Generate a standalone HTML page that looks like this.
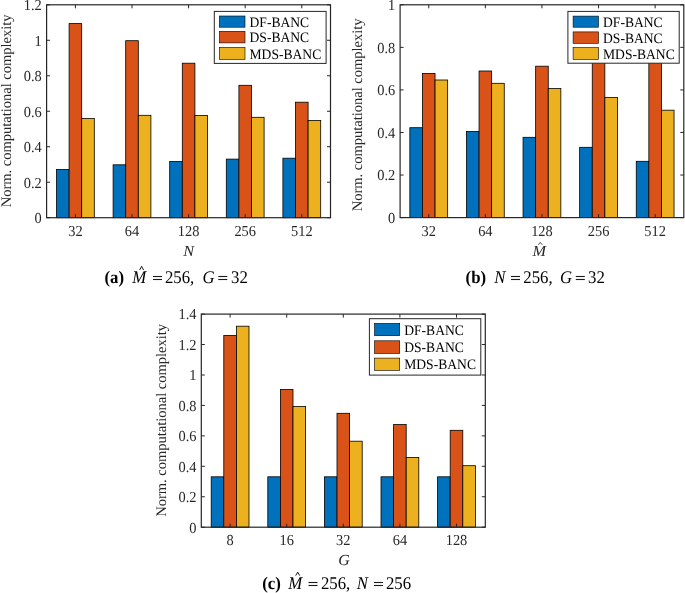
<!DOCTYPE html><html><head><meta charset="utf-8"><style>html,body{margin:0;padding:0;background:#fff;}body{width:685px;height:593px;overflow:hidden;}svg{display:block;filter:blur(0.4px);}text{font-family:"Liberation Serif", serif;text-rendering:geometricPrecision;}</style></head><body>
<svg width="685" height="593" viewBox="0 0 685 593">
<rect x="0" y="0" width="685" height="593" fill="#fff"/>
<rect x="56.5" y="169.4" width="12.6" height="48.3" fill="#0072BD" stroke="#000" stroke-width="0.8"/>
<rect x="69.1" y="23.6" width="12.6" height="194.1" fill="#D95319" stroke="#000" stroke-width="0.8"/>
<rect x="81.7" y="118.4" width="12.6" height="99.3" fill="#EDB120" stroke="#000" stroke-width="0.8"/>
<rect x="113.1" y="164.8" width="12.6" height="52.9" fill="#0072BD" stroke="#000" stroke-width="0.8"/>
<rect x="125.7" y="40.7" width="12.6" height="177" fill="#D95319" stroke="#000" stroke-width="0.8"/>
<rect x="138.3" y="115.3" width="12.6" height="102.4" fill="#EDB120" stroke="#000" stroke-width="0.8"/>
<rect x="169.7" y="161.5" width="12.6" height="56.2" fill="#0072BD" stroke="#000" stroke-width="0.8"/>
<rect x="182.3" y="63.2" width="12.6" height="154.5" fill="#D95319" stroke="#000" stroke-width="0.8"/>
<rect x="194.9" y="115.5" width="12.6" height="102.2" fill="#EDB120" stroke="#000" stroke-width="0.8"/>
<rect x="226.3" y="159.1" width="12.6" height="58.6" fill="#0072BD" stroke="#000" stroke-width="0.8"/>
<rect x="238.9" y="85.3" width="12.6" height="132.4" fill="#D95319" stroke="#000" stroke-width="0.8"/>
<rect x="251.5" y="117.3" width="12.6" height="100.4" fill="#EDB120" stroke="#000" stroke-width="0.8"/>
<rect x="282.9" y="158.2" width="12.6" height="59.5" fill="#0072BD" stroke="#000" stroke-width="0.8"/>
<rect x="295.5" y="102.2" width="12.6" height="115.5" fill="#D95319" stroke="#000" stroke-width="0.8"/>
<rect x="308.1" y="120.4" width="12.6" height="97.3" fill="#EDB120" stroke="#000" stroke-width="0.8"/>
<rect x="46.6" y="4.8" width="283.9" height="212.9" fill="none" stroke="#262626" stroke-width="1.2"/>
<path d="M75.4 217.7V214.2M75.4 4.8V8.3M132 217.7V214.2M132 4.8V8.3M188.6 217.7V214.2M188.6 4.8V8.3M245.2 217.7V214.2M245.2 4.8V8.3M301.8 217.7V214.2M301.8 4.8V8.3M46.6 217.7H50.1M330.5 217.7H327M46.6 182.22H50.1M330.5 182.22H327M46.6 146.73H50.1M330.5 146.73H327M46.6 111.25H50.1M330.5 111.25H327M46.6 75.77H50.1M330.5 75.77H327M46.6 40.28H50.1M330.5 40.28H327M46.6 4.8H50.1M330.5 4.8H327" stroke="#262626" stroke-width="1" fill="none"/>
<text transform="translate(41.8 223) scale(1 1.06)" font-size="14.4" text-anchor="end" fill="#262626">0</text>
<text transform="translate(41.8 187.52) scale(1 1.06)" font-size="14.4" text-anchor="end" fill="#262626">0.2</text>
<text transform="translate(41.8 152.03) scale(1 1.06)" font-size="14.4" text-anchor="end" fill="#262626">0.4</text>
<text transform="translate(41.8 116.55) scale(1 1.06)" font-size="14.4" text-anchor="end" fill="#262626">0.6</text>
<text transform="translate(41.8 81.07) scale(1 1.06)" font-size="14.4" text-anchor="end" fill="#262626">0.8</text>
<text transform="translate(41.8 45.58) scale(1 1.06)" font-size="14.4" text-anchor="end" fill="#262626">1</text>
<text transform="translate(41.8 10.1) scale(1 1.06)" font-size="14.4" text-anchor="end" fill="#262626">1.2</text>
<text transform="translate(75.4 235.8) scale(1 1.06)" font-size="14.4" text-anchor="middle" fill="#262626">32</text>
<text transform="translate(132 235.8) scale(1 1.06)" font-size="14.4" text-anchor="middle" fill="#262626">64</text>
<text transform="translate(188.6 235.8) scale(1 1.06)" font-size="14.4" text-anchor="middle" fill="#262626">128</text>
<text transform="translate(245.2 235.8) scale(1 1.06)" font-size="14.4" text-anchor="middle" fill="#262626">256</text>
<text transform="translate(301.8 235.8) scale(1 1.06)" font-size="14.4" text-anchor="middle" fill="#262626">512</text>
<rect x="214.3" y="11.4" width="111.8" height="52" fill="#fff" stroke="#262626" stroke-width="1"/>
<rect x="219.4" y="16" width="25.6" height="11.2" fill="#0072BD" stroke="#000" stroke-width="0.6"/>
<text transform="translate(249.5 26.8) scale(1 1.06)" font-size="13.6" fill="#000">DF-BANC</text>
<rect x="219.4" y="31.3" width="25.6" height="11.6" fill="#D95319" stroke="#000" stroke-width="0.6"/>
<text transform="translate(249.5 42.3) scale(1 1.06)" font-size="13.6" fill="#000">DS-BANC</text>
<rect x="219.4" y="47.4" width="25.6" height="11.9" fill="#EDB120" stroke="#000" stroke-width="0.6"/>
<text transform="translate(249.5 58.55) scale(1 1.06)" font-size="13.6" fill="#000">MDS-BANC</text>
<text transform="translate(11 110.9) rotate(-90)" font-size="14.5" text-anchor="middle" fill="#262626">Norm. computational complexity</text>
<rect x="409.85" y="127.7" width="12.6" height="89.9" fill="#0072BD" stroke="#000" stroke-width="0.8"/>
<rect x="422.45" y="73.4" width="12.6" height="144.2" fill="#D95319" stroke="#000" stroke-width="0.8"/>
<rect x="435.05" y="80" width="12.6" height="137.6" fill="#EDB120" stroke="#000" stroke-width="0.8"/>
<rect x="466.45" y="131.5" width="12.6" height="86.1" fill="#0072BD" stroke="#000" stroke-width="0.8"/>
<rect x="479.05" y="71" width="12.6" height="146.6" fill="#D95319" stroke="#000" stroke-width="0.8"/>
<rect x="491.65" y="83.3" width="12.6" height="134.3" fill="#EDB120" stroke="#000" stroke-width="0.8"/>
<rect x="523.05" y="137.3" width="12.6" height="80.3" fill="#0072BD" stroke="#000" stroke-width="0.8"/>
<rect x="535.65" y="66.2" width="12.6" height="151.4" fill="#D95319" stroke="#000" stroke-width="0.8"/>
<rect x="548.25" y="88.4" width="12.6" height="129.2" fill="#EDB120" stroke="#000" stroke-width="0.8"/>
<rect x="579.65" y="147.3" width="12.6" height="70.3" fill="#0072BD" stroke="#000" stroke-width="0.8"/>
<rect x="592.25" y="60" width="12.6" height="157.6" fill="#D95319" stroke="#000" stroke-width="0.8"/>
<rect x="604.85" y="97.5" width="12.6" height="120.1" fill="#EDB120" stroke="#000" stroke-width="0.8"/>
<rect x="636.25" y="161.3" width="12.6" height="56.3" fill="#0072BD" stroke="#000" stroke-width="0.8"/>
<rect x="648.85" y="58" width="12.6" height="159.6" fill="#D95319" stroke="#000" stroke-width="0.8"/>
<rect x="661.45" y="110.2" width="12.6" height="107.4" fill="#EDB120" stroke="#000" stroke-width="0.8"/>
<rect x="400.1" y="4.8" width="283.7" height="212.8" fill="none" stroke="#262626" stroke-width="1.2"/>
<path d="M428.75 217.6V214.1M428.75 4.8V8.3M485.35 217.6V214.1M485.35 4.8V8.3M541.95 217.6V214.1M541.95 4.8V8.3M598.55 217.6V214.1M598.55 4.8V8.3M655.15 217.6V214.1M655.15 4.8V8.3M400.1 217.6H403.6M683.8 217.6H680.3M400.1 175.04H403.6M683.8 175.04H680.3M400.1 132.48H403.6M683.8 132.48H680.3M400.1 89.92H403.6M683.8 89.92H680.3M400.1 47.36H403.6M683.8 47.36H680.3M400.1 4.8H403.6M683.8 4.8H680.3" stroke="#262626" stroke-width="1" fill="none"/>
<text transform="translate(395.3 222.9) scale(1 1.06)" font-size="14.4" text-anchor="end" fill="#262626">0</text>
<text transform="translate(395.3 180.34) scale(1 1.06)" font-size="14.4" text-anchor="end" fill="#262626">0.2</text>
<text transform="translate(395.3 137.78) scale(1 1.06)" font-size="14.4" text-anchor="end" fill="#262626">0.4</text>
<text transform="translate(395.3 95.22) scale(1 1.06)" font-size="14.4" text-anchor="end" fill="#262626">0.6</text>
<text transform="translate(395.3 52.66) scale(1 1.06)" font-size="14.4" text-anchor="end" fill="#262626">0.8</text>
<text transform="translate(395.3 10.1) scale(1 1.06)" font-size="14.4" text-anchor="end" fill="#262626">1</text>
<text transform="translate(428.75 235.7) scale(1 1.06)" font-size="14.4" text-anchor="middle" fill="#262626">32</text>
<text transform="translate(485.35 235.7) scale(1 1.06)" font-size="14.4" text-anchor="middle" fill="#262626">64</text>
<text transform="translate(541.95 235.7) scale(1 1.06)" font-size="14.4" text-anchor="middle" fill="#262626">128</text>
<text transform="translate(598.55 235.7) scale(1 1.06)" font-size="14.4" text-anchor="middle" fill="#262626">256</text>
<text transform="translate(655.15 235.7) scale(1 1.06)" font-size="14.4" text-anchor="middle" fill="#262626">512</text>
<rect x="567.9" y="11.4" width="111.3" height="51.8" fill="#fff" stroke="#262626" stroke-width="1"/>
<rect x="573.1" y="16.1" width="25.4" height="11.1" fill="#0072BD" stroke="#000" stroke-width="0.6"/>
<text transform="translate(603 26.85) scale(1 1.06)" font-size="13.6" fill="#000">DF-BANC</text>
<rect x="573.1" y="31.9" width="25.4" height="11.4" fill="#D95319" stroke="#000" stroke-width="0.6"/>
<text transform="translate(603 42.8) scale(1 1.06)" font-size="13.6" fill="#000">DS-BANC</text>
<rect x="573.1" y="47.6" width="25.4" height="11.7" fill="#EDB120" stroke="#000" stroke-width="0.6"/>
<text transform="translate(603 58.65) scale(1 1.06)" font-size="13.6" fill="#000">MDS-BANC</text>
<text transform="translate(362 114.9) rotate(-90)" font-size="14.5" text-anchor="middle" fill="#262626">Norm. computational complexity</text>
<rect x="211.2" y="476.8" width="12.6" height="50.4" fill="#0072BD" stroke="#000" stroke-width="0.8"/>
<rect x="223.8" y="335.4" width="12.6" height="191.8" fill="#D95319" stroke="#000" stroke-width="0.8"/>
<rect x="236.4" y="326.2" width="12.6" height="201" fill="#EDB120" stroke="#000" stroke-width="0.8"/>
<rect x="267.8" y="476.8" width="12.6" height="50.4" fill="#0072BD" stroke="#000" stroke-width="0.8"/>
<rect x="280.4" y="389.5" width="12.6" height="137.7" fill="#D95319" stroke="#000" stroke-width="0.8"/>
<rect x="293" y="406.5" width="12.6" height="120.7" fill="#EDB120" stroke="#000" stroke-width="0.8"/>
<rect x="324.4" y="476.8" width="12.6" height="50.4" fill="#0072BD" stroke="#000" stroke-width="0.8"/>
<rect x="337" y="413.3" width="12.6" height="113.9" fill="#D95319" stroke="#000" stroke-width="0.8"/>
<rect x="349.6" y="441.2" width="12.6" height="86" fill="#EDB120" stroke="#000" stroke-width="0.8"/>
<rect x="381" y="476.8" width="12.6" height="50.4" fill="#0072BD" stroke="#000" stroke-width="0.8"/>
<rect x="393.6" y="424.5" width="12.6" height="102.7" fill="#D95319" stroke="#000" stroke-width="0.8"/>
<rect x="406.2" y="457.4" width="12.6" height="69.8" fill="#EDB120" stroke="#000" stroke-width="0.8"/>
<rect x="437.6" y="476.8" width="12.6" height="50.4" fill="#0072BD" stroke="#000" stroke-width="0.8"/>
<rect x="450.2" y="430.3" width="12.6" height="96.9" fill="#D95319" stroke="#000" stroke-width="0.8"/>
<rect x="462.8" y="465.7" width="12.6" height="61.5" fill="#EDB120" stroke="#000" stroke-width="0.8"/>
<rect x="201.3" y="314.1" width="284" height="213.1" fill="none" stroke="#262626" stroke-width="1.2"/>
<path d="M230.1 527.2V523.7M230.1 314.1V317.6M286.7 527.2V523.7M286.7 314.1V317.6M343.3 527.2V523.7M343.3 314.1V317.6M399.9 527.2V523.7M399.9 314.1V317.6M456.5 527.2V523.7M456.5 314.1V317.6M201.3 527.2H204.8M485.3 527.2H481.8M201.3 496.76H204.8M485.3 496.76H481.8M201.3 466.31H204.8M485.3 466.31H481.8M201.3 435.87H204.8M485.3 435.87H481.8M201.3 405.43H204.8M485.3 405.43H481.8M201.3 374.99H204.8M485.3 374.99H481.8M201.3 344.54H204.8M485.3 344.54H481.8M201.3 314.1H204.8M485.3 314.1H481.8" stroke="#262626" stroke-width="1" fill="none"/>
<text transform="translate(196.5 532.5) scale(1 1.06)" font-size="14.4" text-anchor="end" fill="#262626">0</text>
<text transform="translate(196.5 502.06) scale(1 1.06)" font-size="14.4" text-anchor="end" fill="#262626">0.2</text>
<text transform="translate(196.5 471.61) scale(1 1.06)" font-size="14.4" text-anchor="end" fill="#262626">0.4</text>
<text transform="translate(196.5 441.17) scale(1 1.06)" font-size="14.4" text-anchor="end" fill="#262626">0.6</text>
<text transform="translate(196.5 410.73) scale(1 1.06)" font-size="14.4" text-anchor="end" fill="#262626">0.8</text>
<text transform="translate(196.5 380.29) scale(1 1.06)" font-size="14.4" text-anchor="end" fill="#262626">1</text>
<text transform="translate(196.5 349.84) scale(1 1.06)" font-size="14.4" text-anchor="end" fill="#262626">1.2</text>
<text transform="translate(196.5 319.4) scale(1 1.06)" font-size="14.4" text-anchor="end" fill="#262626">1.4</text>
<text transform="translate(230.1 545.3) scale(1 1.06)" font-size="14.4" text-anchor="middle" fill="#262626">8</text>
<text transform="translate(286.7 545.3) scale(1 1.06)" font-size="14.4" text-anchor="middle" fill="#262626">16</text>
<text transform="translate(343.3 545.3) scale(1 1.06)" font-size="14.4" text-anchor="middle" fill="#262626">32</text>
<text transform="translate(399.9 545.3) scale(1 1.06)" font-size="14.4" text-anchor="middle" fill="#262626">64</text>
<text transform="translate(456.5 545.3) scale(1 1.06)" font-size="14.4" text-anchor="middle" fill="#262626">128</text>
<rect x="369.4" y="318.7" width="111.4" height="56.4" fill="#fff" stroke="#262626" stroke-width="1"/>
<rect x="374.5" y="323.4" width="25.2" height="12.3" fill="#0072BD" stroke="#000" stroke-width="0.6"/>
<text transform="translate(404.2 334.75) scale(1 1.06)" font-size="13.6" fill="#000">DF-BANC</text>
<rect x="374.5" y="340.8" width="25.2" height="12.6" fill="#D95319" stroke="#000" stroke-width="0.6"/>
<text transform="translate(404.2 352.3) scale(1 1.06)" font-size="13.6" fill="#000">DS-BANC</text>
<rect x="374.5" y="358.1" width="25.2" height="12.3" fill="#EDB120" stroke="#000" stroke-width="0.6"/>
<text transform="translate(404.2 369.45) scale(1 1.06)" font-size="13.6" fill="#000">MDS-BANC</text>
<text transform="translate(166 420.4) rotate(-90)" font-size="14.5" text-anchor="middle" fill="#262626">Norm. computational complexity</text>
<text transform="translate(188.7 255.5) scale(1.12 1.06)" font-size="14.5" font-style="italic" text-anchor="middle" fill="#262626">N</text>
<text transform="translate(539.2 255.7) scale(1.12 1.06)" font-size="14.5" font-style="italic" text-anchor="middle" fill="#262626">M</text>
<path d="M538.3 244.8L540.3 242.4L542.3 244.8" stroke="#262626" stroke-width="0.8" fill="none"/>
<text transform="translate(343.9 564.8) scale(1.1 1.06)" font-size="14.5" font-style="italic" text-anchor="middle" fill="#262626">G</text>
<text transform="translate(104.4 282.8) scale(1 1.06)" font-size="16.8" font-weight="bold" fill="#000">(a)</text>
<text transform="translate(132.2 282.8) scale(1 1.06)" font-size="16.8" font-style="italic" fill="#000">M</text>
<rect x="153" y="275.95" width="9" height="1.1" fill="#1a1a1a"/><rect x="153" y="278.95" width="9" height="1.1" fill="#1a1a1a"/>
<text transform="translate(164.9 282.8) scale(1 1.06)" font-size="16.8" fill="#000">256,</text>
<text transform="translate(202.6 282.8) scale(1 1.06)" font-size="16.8" font-style="italic" fill="#000">G</text>
<rect x="218.3" y="275.95" width="9" height="1.1" fill="#1a1a1a"/><rect x="218.3" y="278.95" width="9" height="1.1" fill="#1a1a1a"/>
<text transform="translate(231.1 282.8) scale(1 1.06)" font-size="16.8" fill="#000">32</text>
<text transform="translate(465.6 282.8) scale(1 1.06)" font-size="16.8" font-weight="bold" fill="#000">(b)</text>
<text transform="translate(494.2 282.8) scale(1 1.06)" font-size="16.8" font-style="italic" fill="#000">N</text>
<rect x="511" y="275.95" width="9" height="1.1" fill="#1a1a1a"/><rect x="511" y="278.95" width="9" height="1.1" fill="#1a1a1a"/>
<text transform="translate(523.3 282.8) scale(1 1.06)" font-size="16.8" fill="#000">256,</text>
<text transform="translate(560.1 282.8) scale(1 1.06)" font-size="16.8" font-style="italic" fill="#000">G</text>
<rect x="575.8" y="275.95" width="9" height="1.1" fill="#1a1a1a"/><rect x="575.8" y="278.95" width="9" height="1.1" fill="#1a1a1a"/>
<text transform="translate(588.1 282.8) scale(1 1.06)" font-size="16.8" fill="#000">32</text>
<text transform="translate(262.2 588.8) scale(1 1.06)" font-size="16.8" font-weight="bold" fill="#000">(c)</text>
<text transform="translate(288.2 588.8) scale(1 1.06)" font-size="16.8" font-style="italic" fill="#000">M</text>
<rect x="308.5" y="581.95" width="9" height="1.1" fill="#1a1a1a"/><rect x="308.5" y="584.95" width="9" height="1.1" fill="#1a1a1a"/>
<text transform="translate(320.9 588.8) scale(1 1.06)" font-size="16.8" fill="#000">256,</text>
<text transform="translate(356.8 588.8) scale(1 1.06)" font-size="16.8" font-style="italic" fill="#000">N</text>
<rect x="374" y="581.95" width="9" height="1.1" fill="#1a1a1a"/><rect x="374" y="584.95" width="9" height="1.1" fill="#1a1a1a"/>
<text transform="translate(385.9 588.8) scale(1 1.06)" font-size="16.8" fill="#000">256</text>
<path d="M139.6 270L141.6 266.3L143.6 270" stroke="#000" stroke-width="0.9" fill="none"/>
<path d="M295.7 575.6L297.7 572.1L299.7 575.6" stroke="#000" stroke-width="0.9" fill="none"/>
</svg></body></html>
